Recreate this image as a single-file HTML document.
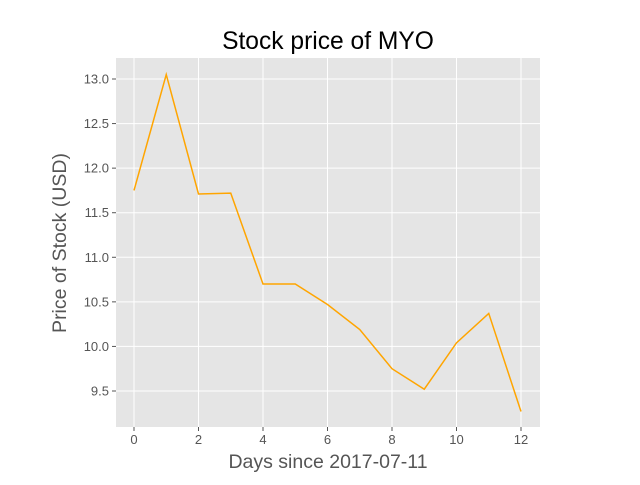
<!DOCTYPE html>
<html><head><meta charset="utf-8"><style>
body{margin:0;background:#fff;font-family:"Liberation Sans",sans-serif}
</style></head><body>
<svg id="chart" width="640" height="480" xmlns="http://www.w3.org/2000/svg" font-family="Liberation Sans, sans-serif"></svg>
<script>
const days=[0,1,2,3,4,5,6,7,8,9,10,11,12];
const prices=[11.75,13.05,11.71,11.72,10.70,10.70,10.47,10.19,9.75,9.52,10.04,10.37,9.27];
const xTicks=[0,2,4,6,8,10,12];
const yTicks=[9.5,10.0,10.5,11.0,11.5,12.0,12.5,13.0];
const L=116,R=540,T=58,B=427;
const sx=v=>134+(v-0)*(521-134)/12;
const sy=v=>79+(13.0-v)*(391-79)/3.5;
const svg=document.getElementById('chart');
const NS='http://www.w3.org/2000/svg';
function mk(tag,attrs,parent){const e=document.createElementNS(NS,tag);for(const k in attrs)e.setAttribute(k,attrs[k]);(parent||svg).appendChild(e);return e;}
const bg=mk('rect',{x:L,y:T,width:R-L,height:B-T,fill:'#e5e5e5'});


xTicks.forEach(v=>{
  const g=mk('line',{x1:sx(v),x2:sx(v),y1:T,y2:B,stroke:'#fff','stroke-width':1});
  
  
  mk('line',{x1:sx(v),x2:sx(v),y1:B,y2:B+4,stroke:'#555'});
  const t=mk('text',{x:sx(v),y:B+17,'text-anchor':'middle','font-size':13,fill:'#555'});
  t.textContent=v;
  
  
});
yTicks.forEach(v=>{
  const g=mk('line',{x1:L,x2:R,y1:sy(v),y2:sy(v),stroke:'#fff','stroke-width':1});
  
  
  mk('line',{x1:L-4,x2:L,y1:sy(v),y2:sy(v),stroke:'#555'});
  const t=mk('text',{x:L-7,y:sy(v)+4.5,'text-anchor':'end','font-size':13,fill:'#555'});
  t.textContent=v.toFixed(1);
  
  
});
const line=mk('polyline',{points:days.map((d,i)=>sx(d)+','+sy(prices[i])).join(' '),fill:'none',stroke:'#ffa500','stroke-width':1.5});


const title=mk('text',{x:328,y:49,'text-anchor':'middle','font-size':24.6,fill:'#000'});
title.textContent='Stock price of MYO';


const xl=mk('text',{x:328,y:468,'text-anchor':'middle','font-size':19.5,fill:'#555'});
xl.textContent='Days since 2017-07-11';


const yl=mk('text',{x:0,y:0,'text-anchor':'middle','font-size':19.5,fill:'#555',transform:'translate(66,243) rotate(-90)'});
yl.textContent='Price of Stock (USD)';


</script>
</body></html>
